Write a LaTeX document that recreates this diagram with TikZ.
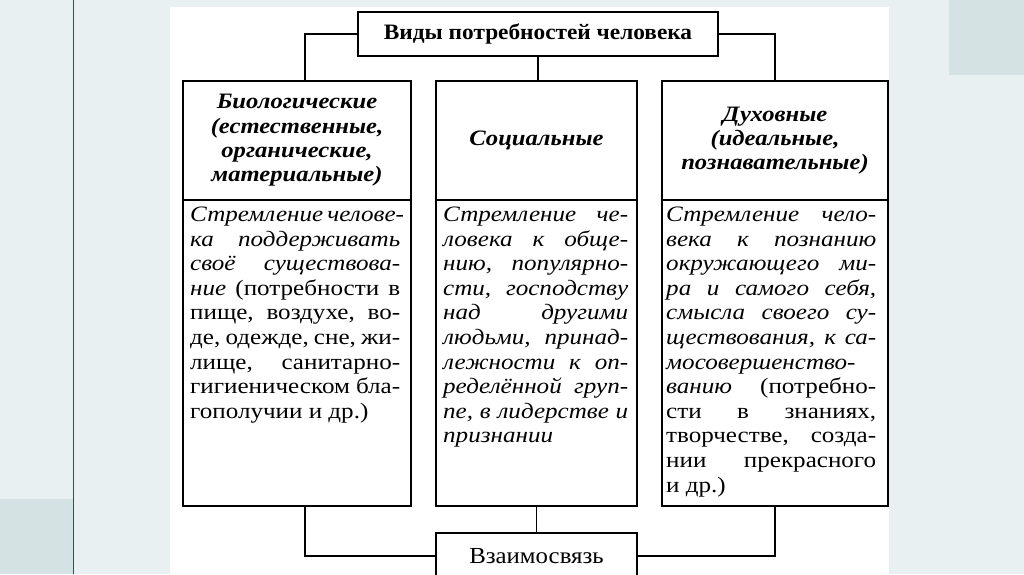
\documentclass[tikz,border=0pt]{standalone}
\usepackage{fontspec}
\setmainfont{Liberation Serif}
\newfontfamily\bodyfont{Liberation Serif}[FakeStretch=1.14]
\newfontfamily\headfont{Liberation Serif}[FakeStretch=1.12]
\newfontfamily\titlefont{Liberation Serif}[FakeStretch=1.06]
\newfontfamily\vzfont{Liberation Serif}[FakeStretch=1.08]
\definecolor{bgl}{HTML}{E8F0F1}
\definecolor{bgd}{HTML}{D4E2E3}
\definecolor{vline}{HTML}{34504F}
\newcommand\JL[2]{\makebox[#1][s]{\strut #2}}
\newcommand\LL[1]{\strut #1}
\begin{document}
\begin{tikzpicture}[x=1pt,y=-1pt,
  boxline/.style={draw=black, line width=1.3pt},
  hdr/.style={boxline, rectangle, inner sep=0pt, align=center, minimum height=119pt,
    font=\headfont\bfseries\itshape\fontsize{22}{24.3}\selectfont},
  bdy/.style={boxline, rectangle, inner sep=0pt, minimum height=306pt},
  txt/.style={inner sep=0pt, anchor=north west, align=left,
    font=\bodyfont\fontsize{22}{24.6}\selectfont},
  conn/.style={draw=black, line width=1.2pt}]
\useasboundingbox (0,0) rectangle (1024,574);
\clip (0,0) rectangle (1024,574);
\fill[bgl] (0,0) rectangle (1024,574);
\fill[bgd] (949,0) rectangle (1024,75);
\fill[bgd] (0,499) rectangle (73,574);
\draw[vline, line width=1.5pt] (73.5,0) -- (73.5,574);
\fill[white] (170,7) rectangle (889,574);

\node[boxline, rectangle, inner sep=0pt, minimum width=360pt, minimum height=44pt,
  font=\titlefont\bfseries\fontsize{22}{24}\selectfont] (tt) at (538,34) {Виды потребностей человека};

\node[hdr, minimum width=228pt] (bioH) at (297,140.5)
  {Биологические\\(естественные,\\органические,\\материальные)};
\node[hdr, minimum width=201pt] (socH) at (536.5,140.5) {Социальные};
\node[hdr, minimum width=226pt] (dukH) at (775,140.5)
  {Духовные\\(идеальные,\\познавательные)};

\node[bdy, minimum width=228pt] (bioB) at (297,353) {};
\node[bdy, minimum width=201pt] (socB) at (536.5,353) {};
\node[bdy, minimum width=226pt] (dukB) at (775,353) {};

\node[boxline, rectangle, inner sep=0pt, minimum width=201pt, minimum height=46pt,
  font=\vzfont\fontsize{23}{24}\selectfont] (vz) at (536.5,556) {Взаимосвязь};

\node[txt] (bioT) at (190,204) {%
\JL{210pt}{\itshape Стремление челове-}\\
\JL{210pt}{\itshape ка поддерживать}\\
\JL{210pt}{\itshape своё существова-}\\
\JL{210pt}{\textit{ние} (потребности в}\\
\JL{210pt}{пище, воздухе, во-}\\
\JL{210pt}{де, одежде, сне, жи-}\\
\JL{210pt}{лище, санитарно-}\\
\JL{210pt}{гигиеническом бла-}\\
\LL{гополучии и др.)}};

\node[txt] (socT) at (443,204) {%
\JL{185pt}{\itshape Стремление че-}\\
\JL{185pt}{\itshape ловека к обще-}\\
\JL{185pt}{\itshape нию, популярно-}\\
\JL{185pt}{\itshape сти, господству}\\
\JL{185pt}{\itshape над другими}\\
\JL{185pt}{\itshape людьми, принад-}\\
\JL{185pt}{\itshape лежности к оп-}\\
\JL{185pt}{\itshape ределённой груп-}\\
\JL{185pt}{\itshape пе, в лидерстве и}\\
\LL{\itshape признании}};

\node[txt] (dukT) at (666,204) {%
\JL{210pt}{\itshape Стремление чело-}\\
\JL{210pt}{\itshape века к познанию}\\
\JL{210pt}{\itshape окружающего ми-}\\
\JL{210pt}{\itshape ра и самого себя,}\\
\JL{210pt}{\itshape смысла своего су-}\\
\JL{210pt}{\itshape ществования, к са-}\\
\LL{\itshape мосовершенство-}\\
\JL{210pt}{\textit{ванию} (потребно-}\\
\JL{210pt}{сти в знаниях,}\\
\JL{210pt}{творчестве, созда-}\\
\JL{210pt}{нии прекрасного}\\
\LL{и др.)}};

\draw[conn] (tt.west) -| ([xshift=8pt]bioH.north);
\draw[conn] (tt.east) -| (dukH.north);
\draw[conn] (tt.south) -- (tt.south |- socH.north);
\draw[conn] ([xshift=8pt]bioB.south) |- (vz.west);
\draw[conn] (dukB.south) |- (vz.east);
\draw[conn] (socB.south) -- (socB.south |- vz.north);
\end{tikzpicture}
\end{document}
